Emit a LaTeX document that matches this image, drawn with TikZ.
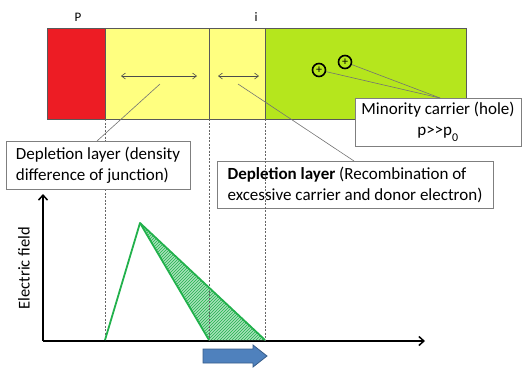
\documentclass[tikz,border=0pt]{standalone}
\usepackage{fontspec}
\setmainfont{Carlito}
\usetikzlibrary{arrows.meta,patterns}
\definecolor{pred}{HTML}{ED1C24}
\definecolor{pyel}{HTML}{FFFF80}
\definecolor{plime}{HTML}{B5E61D}
\definecolor{pgreen}{HTML}{22B14C}
\definecolor{phatch}{HTML}{A6E2BA}
\definecolor{pblue}{HTML}{4F81BD}
\definecolor{pblued}{HTML}{385D8A}
\definecolor{pborder}{HTML}{7F7F7F}
\tikzset{
  region/.style={draw=black!65, line width=0.7pt, inner sep=0pt, outer sep=0pt, anchor=north west, minimum height=91pt},
  labelbox/.style={draw=pborder, line width=0.8pt, fill=white, inner sep=0pt, outer sep=0pt, anchor=north west, font=\fontsize{17}{21}\selectfont},
  callout/.style={draw=black!55, line width=0.6pt},
  dimarrow/.style={draw=black!70, line width=0.6pt, {Straight Barb[length=4pt,width=6pt]}-{Straight Barb[length=4pt,width=6pt]}},
  guide/.style={draw=black!60, line width=0.5pt, dash pattern=on 2pt off 1.5pt},
  hole/.style={circle, draw=black, line width=1.6pt, minimum size=13pt, inner sep=0pt, font=\fontsize{12}{12}\selectfont},
  axis/.style={draw=black, line width=1.5pt, -{Straight Barb[length=5pt,width=9pt,line width=1.5pt]}},
  field/.style={draw=pgreen, line width=1.8pt, line join=round},
  toplabel/.style={font=\fontsize{13}{13}\selectfont}
}
\begin{document}
\begin{tikzpicture}[x=1pt,y=-1pt]
\useasboundingbox (0,0) rectangle (522,368);
% semiconductor bar
\node[region, fill=pred, minimum width=58pt] (rp) at (47,28) {};
\node[region, fill=pyel, minimum width=104pt] (ry1) at (105,28) {};
\node[region, fill=pyel, minimum width=56pt] (ry2) at (209,28) {};
\node[region, fill=plime, minimum width=201pt] (rg) at (265,28) {};
\node[toplabel] (lp) at (78,17) {P};
\node[toplabel] (li) at (256,17) {i};
% width arrows
\coordinate (a1l) at (121,76); \coordinate (a1r) at (197,76);
\coordinate (a2l) at (218,76); \coordinate (a2r) at (259,76);
\draw[dimarrow] (a1l) -- (a1r);
\draw[dimarrow] (a2l) -- (a2r);
% guides
\coordinate (g1t) at (105,119); \coordinate (g1b) at (105,340);
\coordinate (g2t) at (209,119); \coordinate (g2b) at (209,340);
\coordinate (g3t) at (265,119); \coordinate (g3b) at (265,340);
\draw[guide] (g1t) -- (g1b);
\draw[guide] (g2t) -- (g2b);
\draw[guide] (g3t) -- (g3b);
% holes
\node[hole] (h1) at (319,70) {\raisebox{0.5pt}{+}};
\node[hole] (h2) at (345,62) {\raisebox{0.5pt}{+}};
% label boxes
\node[labelbox, minimum width=166pt, minimum height=48pt, align=center] (mbox) at (355,98) {Minority carrier (hole)\\p>{}>p\textsubscript{\raisebox{-3pt}{0}}};
\node[labelbox, minimum width=184pt, minimum height=48pt, align=left] (lbox) at (6,141) {Depletion layer (density\\difference of junction)};
\node[labelbox, minimum width=276pt, minimum height=47pt, align=left] (rbox) at (217,161) {\textbf{Depletion layer} (Recombination of\\excessive carrier and donor electron)};
% callouts
\coordinate (mtip) at (440,98);
\draw[callout] (h1) -- (mtip);
\draw[callout] (h2) -- (mtip);
\coordinate (c1a) at (160,84); \coordinate (c1b) at (97,141);
\draw[callout] (c1a) -- (c1b);
\coordinate (c2a) at (238,84); \coordinate (c2b) at (354,161);
\draw[callout] (c2a) -- (c2b);
% axes
\coordinate (o) at (43,341);
\coordinate (ytop) at (43,194);
\coordinate (xend) at (425,341);
\draw[axis] (o) -- (ytop);
\draw[axis] (o) -- (xend);
\node[rotate=90, font=\fontsize{16.5}{16.5}\selectfont] (ylab) at (24,268) {Electric field};
% field profile
\coordinate (f0) at (105,340);
\coordinate (fpk) at (140,223);
\coordinate (f1) at (209,340);
\coordinate (f2) at (265,340);
\fill[phatch] (fpk) -- (f1) -- (f2) -- cycle;
\fill[pattern=north east lines, pattern color=pgreen] (fpk) -- (f1) -- (f2) -- cycle;
\draw[guide] (g2t) -- (g2b);
\draw[guide] (g3t) -- (g3b);
\draw[field] (f0) -- (fpk) -- (f2);
\draw[field] (fpk) -- (f1);
% drift arrow
\draw[fill=pblue, draw=pblued, line width=0.8pt, line join=miter]
  (203,349) -- (253,349) -- (253,345) -- (267,356) -- (253,367) -- (253,363) -- (203,363) -- cycle;
\end{tikzpicture}
\end{document}
